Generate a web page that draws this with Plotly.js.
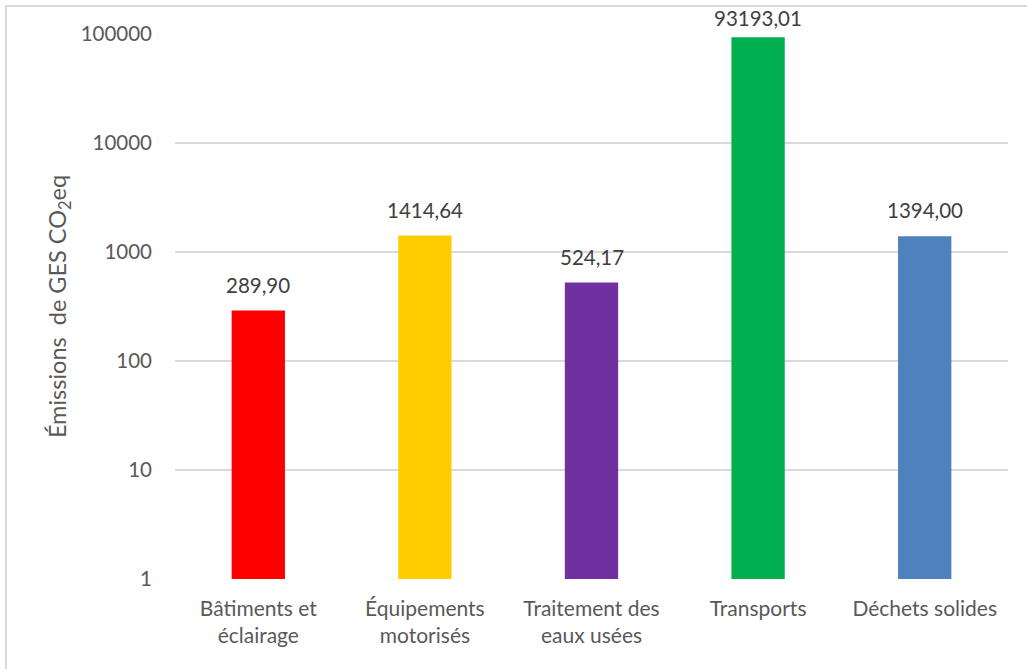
<!DOCTYPE html>
<html><head><meta charset="utf-8">
<script src="https://cdn.plot.ly/plotly-3.0.1.min.js"></script>
<style>html,body{margin:0;padding:0;background:#fff}#chart{width:1027px;height:669px}
#frame{position:absolute;left:5px;top:5px;width:1040px;height:700px;border:2px solid #d9d9d9;pointer-events:none}</style>
</head><body><div id="chart"></div><div id="frame"></div>
<script>
const categories = ["Bâtiments et<br>éclairage", "Équipements<br>motorisés", "Traitement des<br>eaux usées", "Transports", "Déchets solides"];
const values = [289.90, 1414.64, 524.17, 93193.01, 1394.00];
const colors = ["#ff0000", "#ffcc00", "#7030a0", "#00b050", "#4f81bd"];
const tickVals = [1, 10, 100, 1000, 10000, 100000];
const tickText = ["1", "10", "100", "1000", "10000", "100000"];
const labels = values.map(v => v.toFixed(2).replace('.', ','));
const font = "Lato, 'Open Sans', sans-serif";
// labels sit above bars; near the top of the chart they are pushed closer (as in the original)
const annotations = values.map((v, i) => ({
  x: categories[i], y: Math.log10(v), text: labels[i], showarrow: false,
  xanchor: 'center', yanchor: 'bottom', yshift: Math.log10(v) > 4.8 ? 5 : 12,
  font: {family: font, size: 20.5, color: '#404040'}
}));
Plotly.newPlot('chart', [{
  type: 'bar', x: categories, y: values, marker: {color: colors},
  hoverinfo: 'none', width: 0.32
}], {
  width: 1027, height: 669, margin: {l: 175, r: 19, t: 34, b: 90},
  paper_bgcolor: '#fff', plot_bgcolor: '#fff', showlegend: false,
  font: {family: font, color: '#595959', size: 20},
  annotations: annotations,
  xaxis: {showgrid: false, showline: false, tickfont: {size: 21, color: '#595959'}, ticks: '', ticklabelstandoff: 15},
  yaxis: {type: 'log', range: [0, 5], tickvals: tickVals, ticktext: tickText, gridcolor: '#d9d9d9', gridwidth: 1.5,
    zeroline: false, showline: false, ticks: '', tickfont: {size: 20.5, color: '#595959'}, ticklabelstandoff: 22,
    title: {text: 'Émissions  de GES CO<sub>2</sub>eq', font: {size: 23.5, color: '#595959'}, standoff: 7}}
}, {staticPlot: true});
</script></body></html>
